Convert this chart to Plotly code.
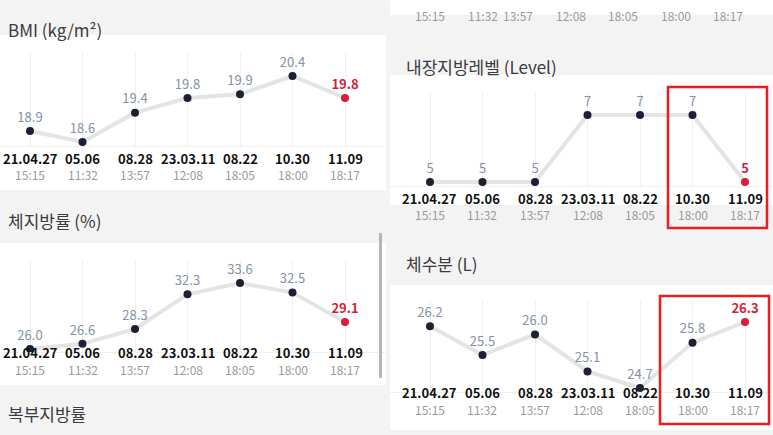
import plotly.graph_objects as go

dates = ['21.04.27', '05.06', '08.28', '23.03.11', '08.22', '10.30', '11.09']
times = ['15:15', '11:32', '13:57', '12:08', '18:05', '18:00', '18:17']
bmi = [18.9, 18.6, 19.4, 19.8, 19.9, 20.4, 19.8]
body_fat = [26.0, 26.6, 28.3, 32.3, 33.6, 32.5, 29.1]
visceral = [5, 5, 5, 7, 7, 7, 5]
water = [26.2, 25.5, 26.0, 25.1, 24.7, 25.8, 26.3]

W, H = 773, 435
FONT = 'Noto Sans CJK KR, Noto Sans, sans-serif'
idx = list(range(7))

fig = go.Figure()


def py(p):
    return 1 - p / H


def yrange(v1, p1, v2, p2, top, bot):
    k = (v2 - v1) / (p1 - p2)  # value per px (upwards)
    return [v1 - (bot - p1) * k, v1 + (p1 - top) * k]


# (name, values, x of first point px, grid top, grid bottom, ref value pairs, domain px)
charts = [
    ('1', bmi, 30, 52, 146, (18.6, 142, 20.4, 76), 0, 386),
    ('2', body_fat, 30, 260, 352, (26.0, 349, 33.6, 283), 0, 386),
    ('3', visceral, 430, 92, 186, (5, 182, 7, 115), 390, 773),
    ('4', water, 430, 300, 392, (24.7, 388, 26.3, 322), 390, 773),
]

# backgrounds
shapes = [dict(type='rect', xref='paper', yref='paper', x0=0, x1=1, y0=0, y1=1,
               fillcolor='#f3f3f4', line_width=0, layer='below')]
for x0, x1, t, b in [(0, 386, 35, 190), (0, 386, 243, 385), (390, 773, -5, 15),
                     (390, 773, 75, 205), (390, 773, 285, 430)]:
    shapes.append(dict(type='rect', xref='paper', yref='paper', x0=x0 / W, x1=x1 / W,
                       y0=py(b), y1=py(t), fillcolor='white', line_width=0, layer='below'))
# scrollbar
shapes.append(dict(type='rect', xref='paper', yref='paper', x0=379 / W, x1=382 / W,
                   y0=py(378), y1=py(233), fillcolor='#b5b5b5', line_width=0))
# highlight boxes
for x0, x1, t, b in [(668, 767, 87, 228), (660, 769, 296, 424)]:
    shapes.append(dict(type='rect', xref='paper', yref='paper', x0=x0 / W, x1=x1 / W,
                       y0=py(b), y1=py(t), line=dict(color='#ee1c1c', width=2.5)))

annotations = []
for name, vals, xl, top, bot, ref, d0, d1 in charts:
    sp = 52.5
    xr = [(d0 - xl) / sp, (d1 - xl) / sp]
    yr = yrange(ref[0], ref[1], ref[2], ref[3], top, bot)
    xa = 'x' if name == '1' else 'x' + name
    ya = 'y' if name == '1' else 'y' + name
    colors = ['#1c2033'] * 6 + ['#d41f3c']
    fig.add_trace(go.Scatter(
        x=idx, y=vals, mode='lines+markers+text', xaxis=xa, yaxis=ya,
        line=dict(color='#e4e4e4', width=4),
        marker=dict(color=colors, size=8),
        text=[str(v) if i < 6 else '<b>%s</b>' % v for i, v in enumerate(vals)],
        textposition='top center',
        textfont=dict(color=['#8391a9'] * 6 + ['#d41f3c'], size=13, family=FONT),
        hoverinfo='skip', showlegend=False, cliponaxis=False))
    fig.update_layout(**{
        ('xaxis' if name == '1' else 'xaxis' + name): dict(
            domain=[d0 / W, d1 / W], range=xr, anchor=ya, tickvals=idx,
            showticklabels=False, showgrid=True, gridcolor='#f0f0f0', zeroline=False,
            showline=True, linecolor='#f0f0f0', fixedrange=True),
        ('yaxis' if name == '1' else 'yaxis' + name): dict(
            domain=[py(bot), py(top)], range=yr, anchor=xa, visible=False,
            showgrid=False, fixedrange=True),
    })
    for i in idx:
        annotations.append(dict(x=i, y=py(bot + 12), xref=xa, yref='paper', text='<b>%s</b>' % dates[i],
                                showarrow=False, font=dict(size=13, color='#111', family=FONT)))
        annotations.append(dict(x=i, y=py(bot + 28), xref=xa, yref='paper', text=times[i],
                                showarrow=False, font=dict(size=12, color='#9a9a9a', family=FONT)))

# partial time row of card above, right column
for i in idx:
    annotations.append(dict(x=(430 + 52.5 * i) / W, y=py(5), xref='paper', yref='paper', text=times[i],
                            showarrow=False, font=dict(size=12, color='#9a9a9a', family=FONT)))

for txt, x, y in [('BMI (kg/m²)', 6, 15), ('체지방률 (%)', 6, 220), ('복부지방률', 6, 428),
                  ('내장지방레벨 (Level)', 404, 52), ('체수분 (L)', 404, 263)]:
    annotations.append(dict(x=x / W, y=py(y), xref='paper', yref='paper', text=txt, xanchor='left',
                            showarrow=False, font=dict(size=17, color='#3a3a40', family=FONT)))

fig.update_layout(width=W, height=H, margin=dict(l=0, r=0, t=0, b=0),
                  paper_bgcolor='#f3f3f4', plot_bgcolor='rgba(0,0,0,0)',
                  shapes=shapes, annotations=annotations, font=dict(family=FONT))
fig.write_html('out.html', config={'displayModeBar': False},
               post_script="document.body.style.margin='0';document.body.style.overflow='hidden';")
